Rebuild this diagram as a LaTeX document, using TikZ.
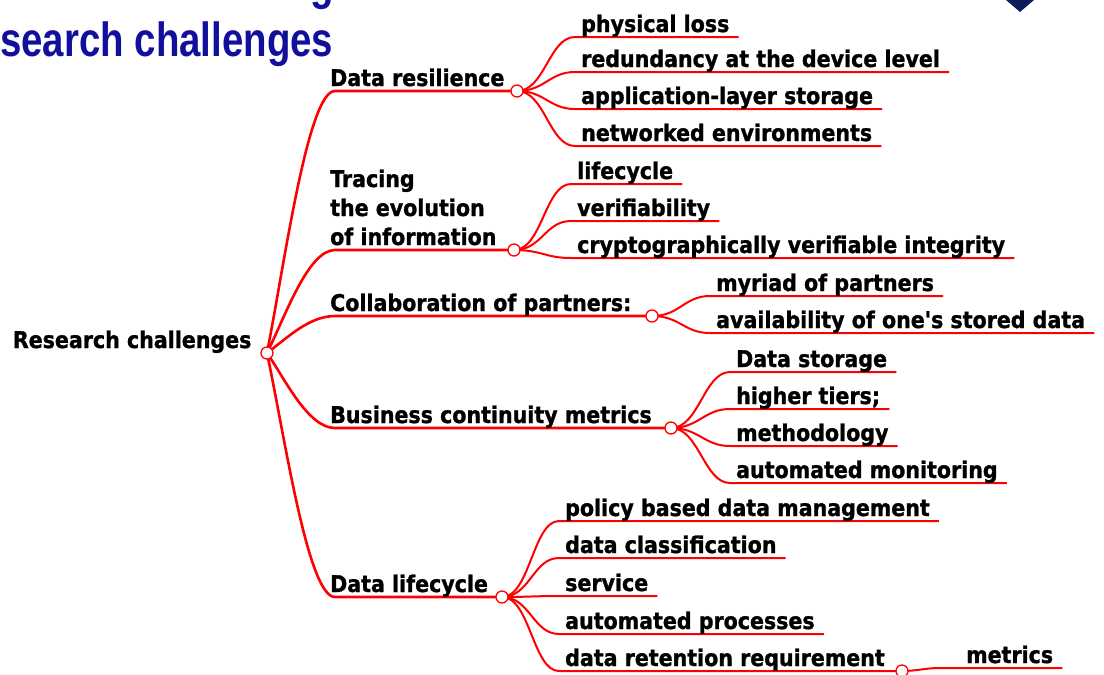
\documentclass[tikz,border=0pt]{standalone}
\usepackage{fontspec}
\newfontfamily\labfont[FakeStretch=0.895,BoldFeatures={FakeBold=1.2}]{DejaVu Sans}
\newfontfamily\titlefont[FakeStretch=0.8]{Liberation Sans}
\usetikzlibrary{backgrounds}
\definecolor{titleblue}{RGB}{16,16,156}
\definecolor{navyshape}{RGB}{12,30,90}
\begin{document}
\begin{tikzpicture}[x=1pt,y=-1pt,
  lbl/.style={font=\labfont\bfseries\fontsize{23}{29}\selectfont, anchor=base west, inner sep=0pt, text=black},
  ttl/.style={font=\titlefont\bfseries\fontsize{48}{52}\selectfont, anchor=base west, inner sep=0pt, text=titleblue},
  br/.style={draw=red, line width=2.6pt},
  leaf/.style={draw=red, line width=2pt},
  knot/.style={circle, draw=red, fill=white, line width=1.3pt, minimum size=12pt, inner sep=0pt},
  ul/.style={xshift=-6pt,yshift=-5pt},
  ue/.style={xshift=9pt,yshift=-5pt}]
\useasboundingbox (0,0) rectangle (1104,675);
\clip (0,0) rectangle (1104,675);

% title (cropped)
\node[ttl] (title) at (-49,56.7) {Research challenges};
\node[ttl] (titleg) at (310,-1) {g};
\fill[navyshape] (1006,0) -- (1034,0) -- (1020,12) -- cycle;

% root
\node[lbl] (rc) at (12.7,348) {Research challenges};
\node[knot] (root) at (267,353) {};

% level 1
\node[lbl] (dr) at (330,86) {Data resilience};
\node[knot] (k1) at (517,91) {};
\node[lbl, align=left] (te) at (330,245) {Tracing\\the evolution\\of information};
\node[knot] (k2) at (514,250) {};
\node[lbl] (cp) at (330,311) {Collaboration of partners:};
\node[knot] (k3) at (652,316) {};
\node[lbl] (bc) at (330,423) {Business continuity metrics};
\node[knot] (k4) at (671,428) {};
\node[lbl] (dl) at (330,592) {Data lifecycle};
\node[knot] (k5) at (502,597) {};

% leaves
\node[lbl] (l11) at (581,32) {physical loss};
\node[lbl] (l12) at (581,67) {redundancy at the device level};
\node[lbl] (l13) at (581,104) {application-layer storage};
\node[lbl] (l14) at (581,141) {networked environments};
\node[lbl] (l21) at (577,179) {lifecycle};
\node[lbl] (l22) at (577,216) {verifiability};
\node[lbl] (l23) at (577,253) {cryptographically verifiable integrity};
\node[lbl] (l31) at (716,291) {myriad of partners};
\node[lbl] (l32) at (716,328) {availability of one's stored data};
\node[lbl] (l41) at (736,367) {Data storage};
\node[lbl] (l42) at (736,404) {higher tiers;};
\node[lbl] (l43) at (736,441) {methodology};
\node[lbl] (l44) at (736,478) {automated monitoring};
\node[lbl] (l51) at (565,516) {policy based data management};
\node[lbl] (l52) at (565,553) {data classification};
\node[lbl] (l53) at (565,591) {service};
\node[lbl] (l54) at (565,629) {automated processes};
\node[lbl] (l55) at (565,666) {data retention requirement};
\node[knot] (k6) at (902,671) {};
\node[lbl] (l6) at (966,663) {metrics};

\begin{scope}[on background layer]
% level 1 connectors
\draw[br] (root.center) .. controls (285,261) and (308,91) .. ([xshift=5pt,yshift=-5pt]dr.base west) -- (k1.center);
\draw[br] (root.center) .. controls (285,317) and (308,250) .. ([xshift=5pt,yshift=-5pt]te.base west) -- (k2.center);
\draw[br] (root.center) .. controls (285,340) and (308,316) .. ([xshift=5pt,yshift=-5pt]cp.base west) -- (k3.center);
\draw[br] (root.center) .. controls (285,379) and (308,428) .. ([xshift=5pt,yshift=-5pt]bc.base west) -- (k4.center);
\draw[br] (root.center) .. controls (285,438) and (308,597) .. ([xshift=5pt,yshift=-5pt]dl.base west) -- (k5.center);
% leaves
\foreach \k/\l in {k1/l11,k1/l12,k1/l13,k1/l14,k2/l21,k2/l22,k2/l23,k3/l31,k3/l32,k4/l41,k4/l42,k4/l43,k4/l44,k5/l51,k5/l52,k5/l53,k5/l54}{
  \draw[leaf] (\k.center) .. controls +(28,0) and +(-26,0) .. ([ul]\l.base west) -- ([ue]\l.base east);
}
\draw[leaf] (k5.center) .. controls +(28,0) and +(-26,0) .. ([ul]l55.base west) -- (k6.center);
\draw[leaf] (k6.center) .. controls +(15,0) and +(-15,0) .. ([xshift=-26pt,yshift=-5pt]l6.base west) -- ([ue]l6.base east);
\end{scope}
\end{tikzpicture}
\end{document}
